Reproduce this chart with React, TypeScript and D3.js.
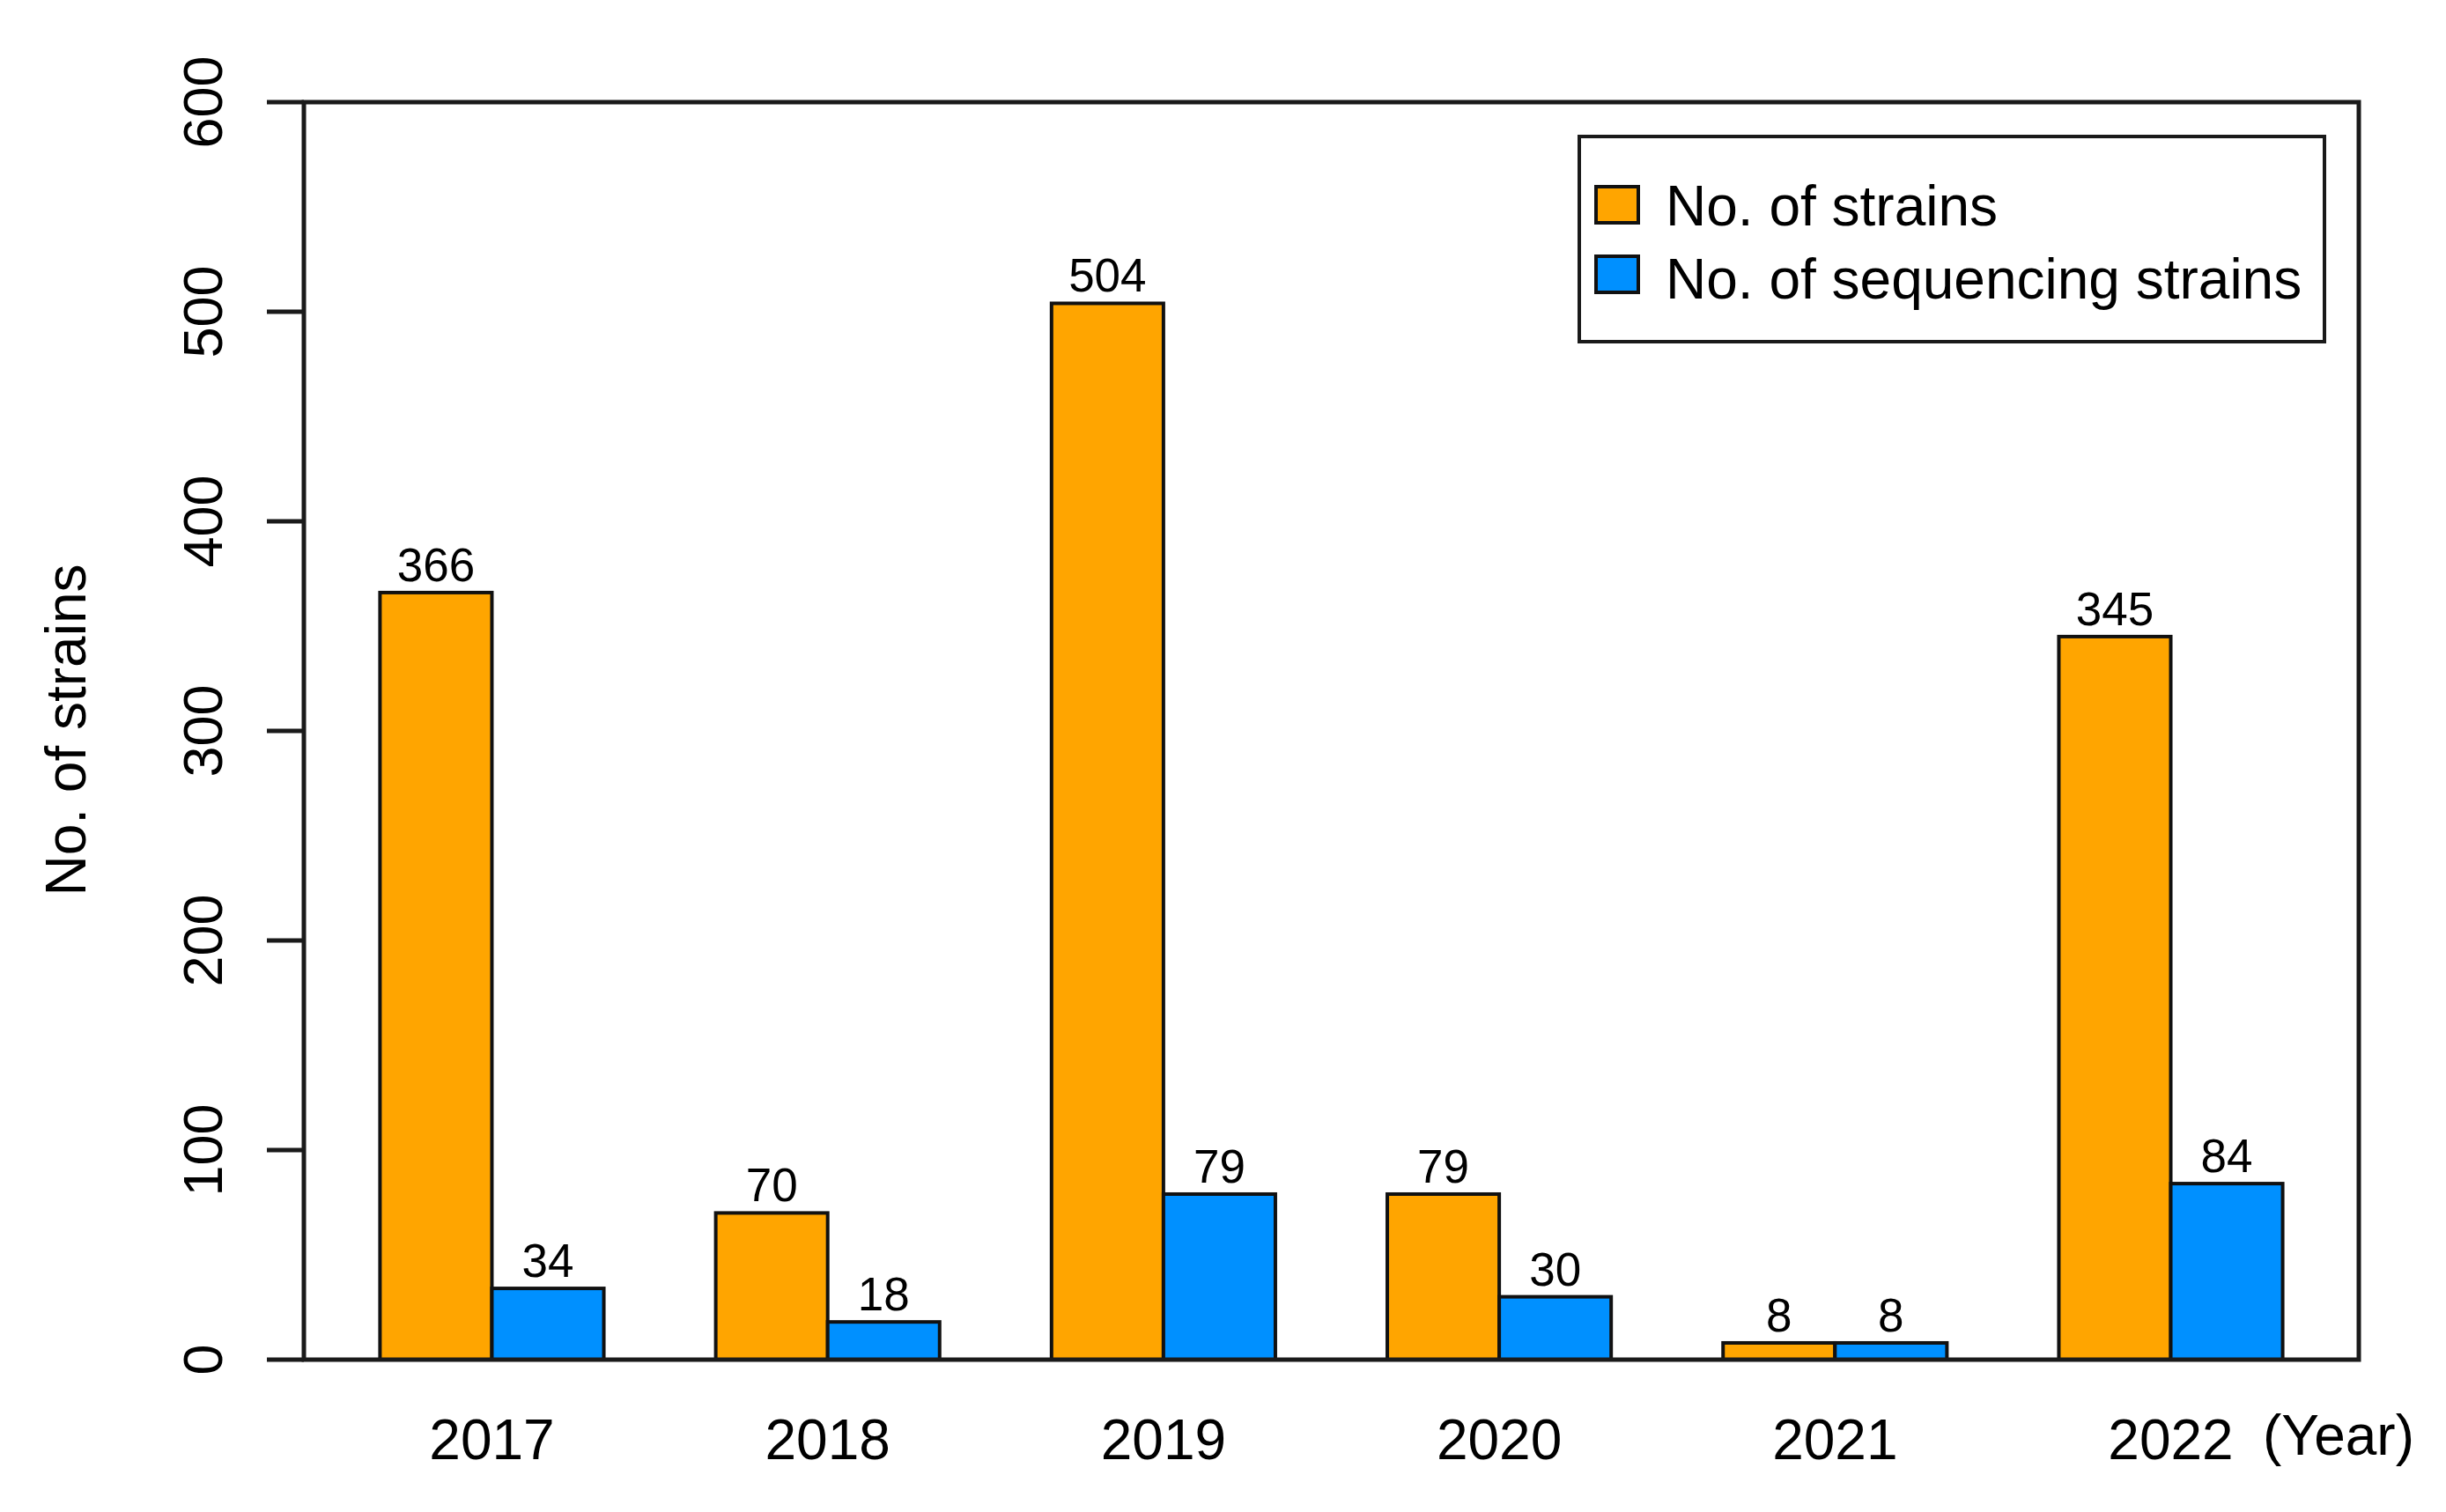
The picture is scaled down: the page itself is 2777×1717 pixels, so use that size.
import React from "react";
import * as d3 from "d3";

const years = ["2017", "2018", "2019", "2020", "2021", "2022"];
const strains = [366, 70, 504, 79, 8, 345];
const sequencing = [34, 18, 79, 30, 8, 84];
const yTicks = [0, 100, 200, 300, 400, 500, 600];
const seriesNames = ["No. of strains", "No. of sequencing strains"];
const seriesColors = ["#FFA500", "#0090FF"];

const W = 2777;
const H = 1717;
const FONT = "'Liberation Sans', Arial, Helvetica, sans-serif";

export default function App() {
  const left = 345;
  const right = 2678;
  const top = 116;
  const bottom = 1544;

  // barplot-style units: each group = 1 gap + 2 bars, axis padded by 4%
  const x = d3.scaleLinear().domain([0.32, 18.68]).range([left, right]);
  const y = d3.scaleLinear().domain([0, 600]).range([bottom, top]);
  const unit = x(1) - x(0);

  const series = [strains, sequencing];

  return (
    <svg
      width={W}
      height={H}
      viewBox={`0 0 ${W} ${H}`}
      style={{ position: "absolute", left: 0, top: 0, background: "#fff" }}
      fontFamily={FONT}
    >
      <rect x={0} y={0} width={W} height={H} fill="#fff" />

      {/* bars */}
      {years.map((yr, i) =>
        series.map((vals, s) => {
          const u = 1 + 3 * i + s;
          const v = vals[i];
          return (
            <g key={`${yr}-${s}`}>
              <rect
                x={x(u)}
                y={y(v)}
                width={unit}
                height={y(0) - y(v)}
                fill={seriesColors[s]}
                stroke="#111"
                strokeWidth={4}
              />
              <text
                x={x(u + 0.5)}
                y={y(v) - 13}
                textAnchor="middle"
                fontSize={53}
                fill="#000"
              >
                {v}
              </text>
            </g>
          );
        })
      )}

      {/* plot box */}
      <rect
        x={left}
        y={top}
        width={right - left}
        height={bottom - top}
        fill="none"
        stroke="#1a1a1a"
        strokeWidth={5}
      />

      {/* y axis ticks and labels */}
      {yTicks.map((t) => (
        <g key={t}>
          <line x1={303} x2={left} y1={y(t)} y2={y(t)} stroke="#1a1a1a" strokeWidth={5} />
          <text
            transform={`translate(252,${y(t)}) rotate(-90)`}
            textAnchor="middle"
            fontSize={63}
            fill="#000"
          >
            {t}
          </text>
        </g>
      ))}

      <text
        transform={`translate(97,829) rotate(-90)`}
        textAnchor="middle"
        fontSize={64}
        fill="#000"
      >
        No. of strains
      </text>

      {/* x labels */}
      {years.map((yr, i) => (
        <text
          key={yr}
          x={x(2 + 3 * i)}
          y={1657}
          textAnchor="middle"
          fontSize={64}
          fill="#000"
        >
          {yr}
        </text>
      ))}
      <text x={2569} y={1652} fontSize={64} fill="#000">
        (Year)
      </text>

      {/* legend */}
      <rect x={1793} y={155} width={846} height={233} fill="#fff" stroke="#1a1a1a" strokeWidth={4} />
      {seriesNames.map((name, s) => (
        <g key={name}>
          <rect
            x={1812}
            y={212 + s * 79}
            width={48}
            height={41}
            fill={seriesColors[s]}
            stroke="#111"
            strokeWidth={4}
          />
          <text x={1891} y={256 + s * 83} fontSize={64} fill="#000">
            {name}
          </text>
        </g>
      ))}
    </svg>
  );
}
